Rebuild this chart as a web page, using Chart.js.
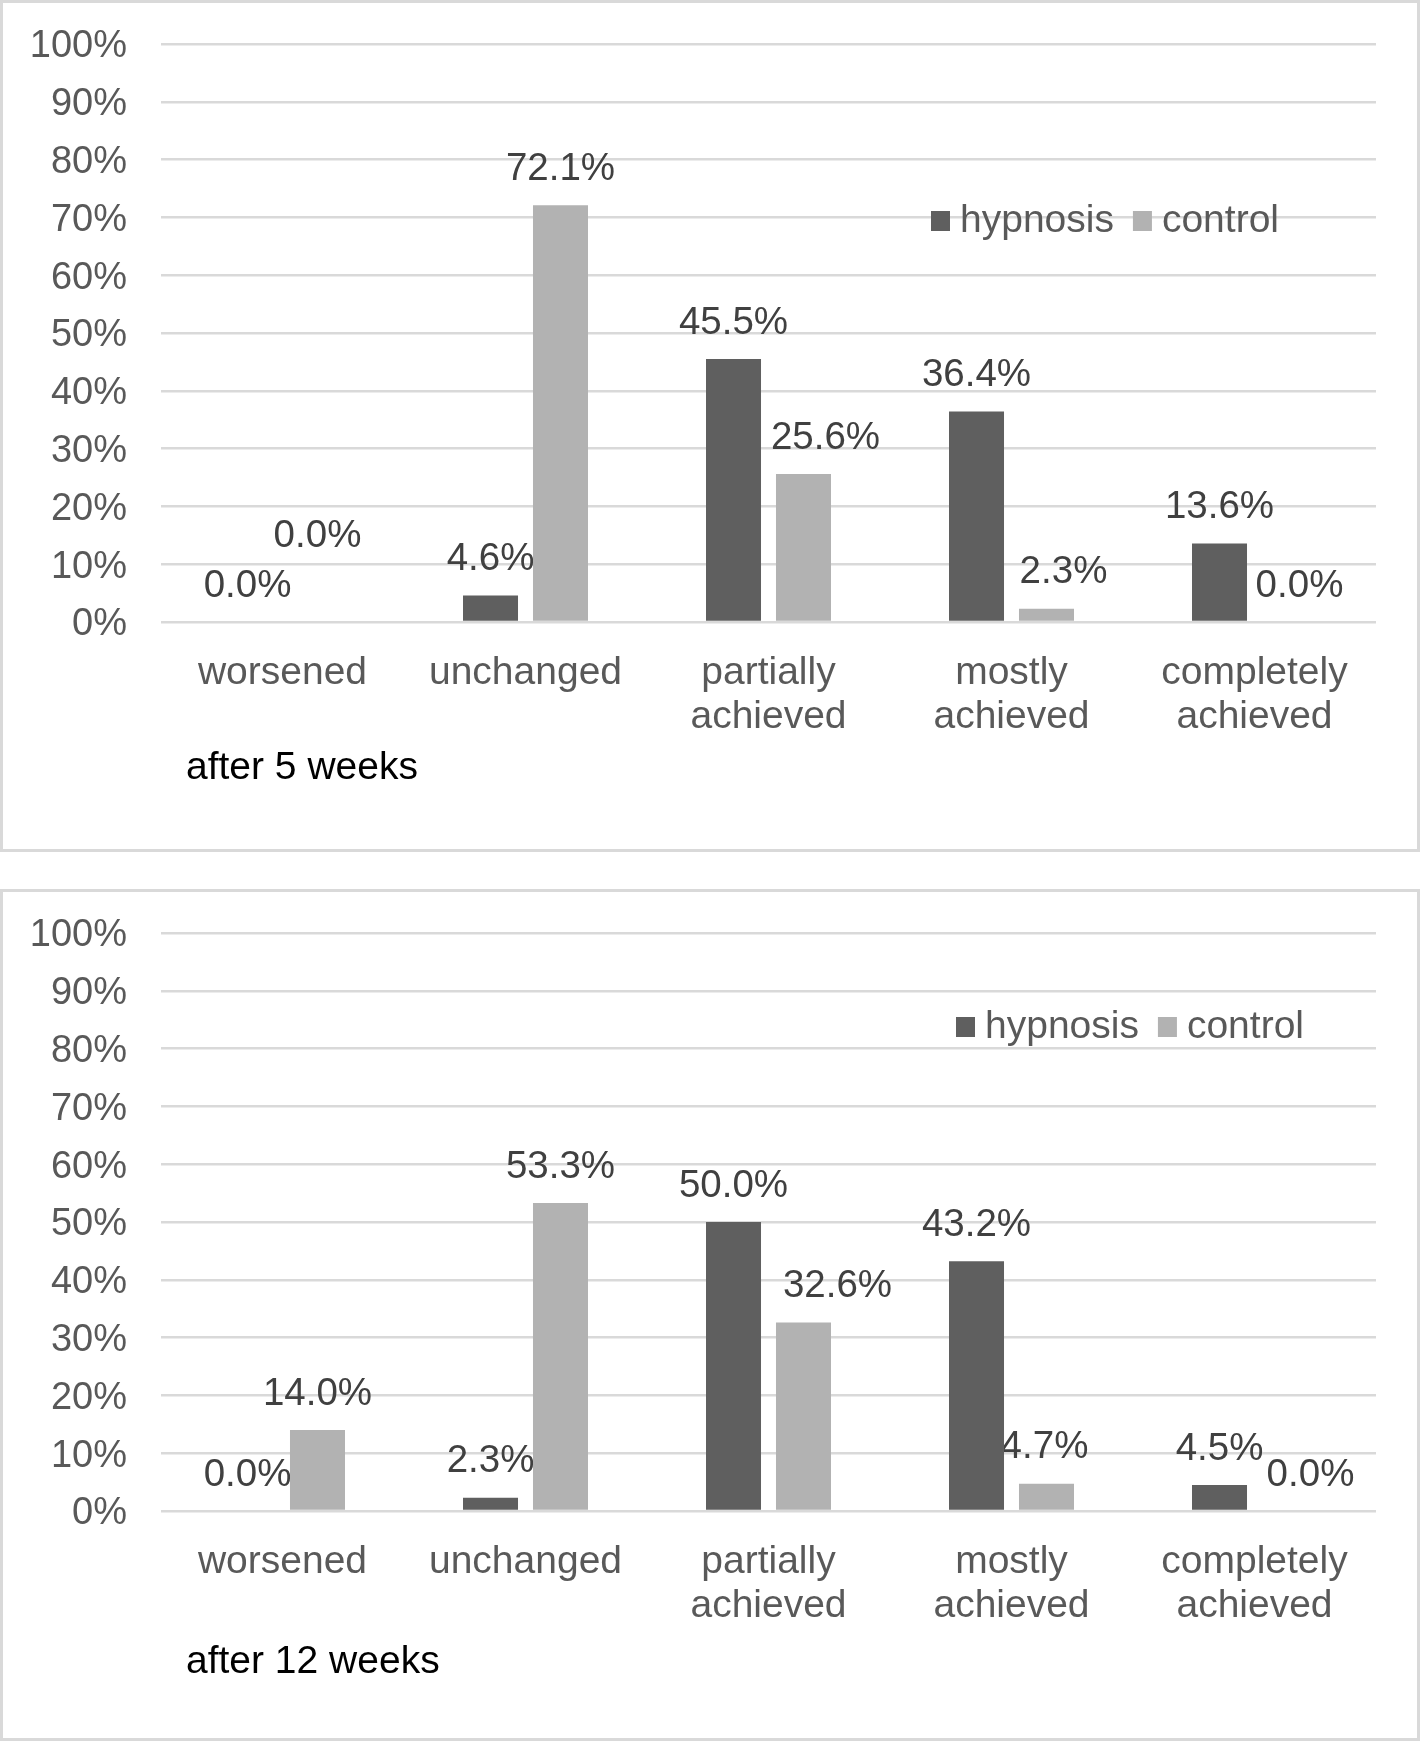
<!DOCTYPE html>
<html>
<head>
<meta charset="utf-8">
<script src="https://cdn.jsdelivr.net/npm/chart.js@4"></script>
<style>
  html, body { margin: 0; padding: 0; background: #fff; }
  .box {
    position: absolute;
    left: 0;
    width: 1420px;
    height: 852px;
    border: 3px solid #d9d9d9;
    box-sizing: border-box;
  }
  .box canvas { display: block; }
</style>
</head>
<body>
<div class="box" style="top:0px"><canvas id="chart5"></canvas></div>
<div class="box" style="top:889px"><canvas id="chart12"></canvas></div>
<script>
// Categories and series
const categories = ['worsened', 'unchanged', ['partially', 'achieved'], ['mostly', 'achieved'], ['completely', 'achieved']];
const seriesNames = ['hypnosis', 'control'];

// after 5 weeks (%)
const hypnosisWeek5 = [0.0, 4.6, 45.5, 36.4, 13.6];
const controlWeek5 = [0.0, 72.1, 25.6, 2.3, 0.0];

// after 12 weeks (%)
const hypnosisWeek12 = [0.0, 2.3, 50.0, 43.2, 4.5];
const controlWeek12 = [14.0, 53.3, 32.6, 4.7, 0.0];

// y axis range
const yMin = 0;
const yMax = 100;
const yStep = 10;

const colors = ['#5f5f5f', '#b2b2b2'];
const FONT = "'Liberation Sans', Arial, sans-serif";
Chart.defaults.font.family = FONT;

// Label nudges (px) where the original labels were moved by hand
const nudges5 = {
  dx: [[0, 0, 0, 0, 0], [0, 0, 22, 17, 10]],
  dy: [[0, 0, 0, 0, 0], [50, 0, 0, 0, 0]]
};
const nudges12 = {
  dx: [[0, 0, 0, 0, 0], [0, 0, 34, -2, 21]],
  dy: [[0, 0, 0, 0, 0], [0, 0, 0, 0, 0]]
};

// Value labels, drawn under the bars like in the original
const valueLabels = {
  id: 'valueLabels',
  beforeDatasetsDraw(chart) {
    const ctx = chart.ctx;
    const n = chart.options.plugins.valueLabels;
    ctx.save();
    ctx.font = '38.5px ' + FONT;
    ctx.fillStyle = '#404040';
    ctx.textAlign = 'center';
    ctx.textBaseline = 'middle';
    chart.data.datasets.forEach((ds, i) => {
      const meta = chart.getDatasetMeta(i);
      meta.data.forEach((bar, j) => {
        const txt = ds.data[j].toFixed(1) + '%';
        ctx.fillText(txt, bar.x + n.dx[i][j], bar.y - 36 - n.dy[i][j]);
      });
    });
    ctx.restore();
  }
};

// Legend and caption drawn at their spots inside the plot
const extras = {
  id: 'extras',
  afterDraw(chart) {
    const ctx = chart.ctx;
    const o = chart.options.plugins.extras;
    ctx.save();
    ctx.font = '39px ' + FONT;
    ctx.textBaseline = 'middle';
    ctx.textAlign = 'left';
    let x = o.legendX;
    chart.data.datasets.forEach(ds => {
      ctx.fillStyle = ds.backgroundColor;
      ctx.fillRect(x, o.legendY - 10, 19, 20);
      x += 29;
      ctx.fillStyle = '#595959';
      ctx.fillText(ds.label, x, o.legendY);
      x += ctx.measureText(ds.label).width + 19;
    });
    ctx.fillStyle = '#000000';
    ctx.fillText(o.caption, chart.chartArea.left + 25, o.captionY);
    ctx.restore();
  }
};

function makeChart(id, hypnosis, control, caption, legendX, legendY, captionY, nudges) {
  return new Chart(document.getElementById(id), {
    type: 'bar',
    data: {
      labels: categories,
      datasets: [
        { label: seriesNames[0], data: hypnosis, backgroundColor: colors[0] },
        { label: seriesNames[1], data: control, backgroundColor: colors[1] }
      ]
    },
    options: {
      responsive: true,
      maintainAspectRatio: false,
      animation: false,
      datasets: { bar: { categoryPercentage: 0.576, barPercentage: 0.786 } },
      layout: { padding: { top: 41, right: 41, bottom: 0, left: 0 } },
      plugins: {
        legend: { display: false },
        tooltip: { enabled: false },
        valueLabels: nudges,
        extras: { caption: caption, legendX: legendX, legendY: legendY, captionY: captionY }
      },
      scales: {
        x: {
          grid: { display: false, drawTicks: false },
          border: { display: false },
          ticks: {
            color: '#595959',
            font: { size: 39, lineHeight: '44px' },
            padding: 29,
            maxRotation: 0,
            autoSkip: false
          },
          afterFit(scale) { scale.height = 227; }
        },
        y: {
          min: yMin,
          max: yMax,
          grid: { color: '#d9d9d9', lineWidth: 2.5, drawTicks: false },
          border: { display: false },
          ticks: {
            stepSize: yStep,
            color: '#595959',
            font: { size: 38 },
            padding: 34,
            labelOffset: 3,
            callback: v => v + '%'
          },
          afterFit(scale) {
            scale.width = 158;
            // tick padding should not push the plot top down
            scale.paddingTop = 0;
            scale.paddingBottom = 0;
          }
        }
      }
    },
    plugins: [valueLabels, extras]
  });
}

makeChart('chart5', hypnosisWeek5, controlWeek5, 'after 5 weeks', 928, 218, 765, nudges5);
makeChart('chart12', hypnosisWeek12, controlWeek12, 'after 12 weeks', 953, 135, 770, nudges12);
</script>
</body>
</html>
